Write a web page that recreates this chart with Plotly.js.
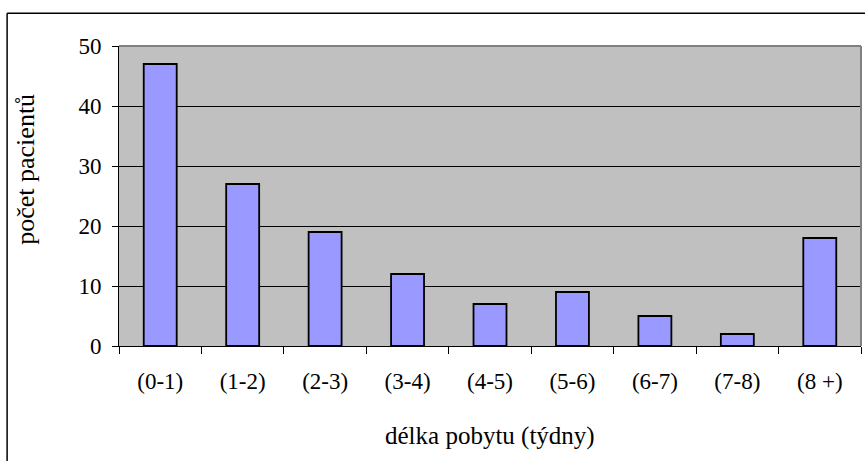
<!DOCTYPE html>
<html><head><meta charset="utf-8">
<script src="https://cdn.plot.ly/plotly-3.0.1.min.js"></script>
<style>body{margin:0;background:#fff}#c{width:865px;height:461px}</style>
</head><body><div id="c"></div>
<script>
const categories = ["(0-1)","(1-2)","(2-3)","(3-4)","(4-5)","(5-6)","(6-7)","(7-8)","(8 +)"];
const values = [47, 27, 19, 12, 7, 9, 5, 2, 18];
const yTicks = [0, 10, 20, 30, 40, 50];

const fam = "Liberation Serif, Times New Roman, serif";
const tickFont = {family: fam, size: 23, color: "#000"};
const xTitleFont = {family: fam, size: 25, color: "#000"};
const yTitleFont = {family: fam, size: 26, color: "#000"};
const data = [{
  type: "bar", x: categories, y: values,
  marker: {color: "#9999FF", line: {color: "#000", width: 1.8}},
  width: 0.4, hoverinfo: "none"
}];
const layout = {
  width: 865, height: 461,
  margin: {l: 119, r: 4, t: 46, b: 115},
  paper_bgcolor: "#fff", plot_bgcolor: "#C0C0C0",
  font: tickFont, showlegend: false, bargap: 0.6,
  xaxis: {
    type: "category", tickson: "boundaries", ticks: "outside", ticklen: 7, tickcolor: "#000", tickwidth: 1,
    showline: true, linecolor: "#000", linewidth: 1, showgrid: false, zeroline: false,
    tickfont: tickFont, ticklabelstandoff: 14, fixedrange: true
  },
  yaxis: {
    range: [0, 50], tickvals: yTicks, ticktext: yTicks.map(String),
    ticks: "outside", ticklen: 6, tickcolor: "#000",
    showline: true, linecolor: "#000", linewidth: 1,
    showgrid: true, gridcolor: "#000", gridwidth: 1, zeroline: false,
    tickfont: tickFont, ticklabelstandoff: 6, fixedrange: true
  },
  shapes: [
    {type: "line", xref: "paper", yref: "paper", x0: 0, x1: 1, y0: 1, y1: 1, line: {color: "#808080", width: 2}},
    {type: "line", xref: "paper", yref: "paper", x0: 1, x1: 1, y0: 0, y1: 1, line: {color: "#808080", width: 2}},
    {type: "line", xref: "paper", yref: "paper", x0: -0.1508, x1: 1.2, y0: 1.109, y1: 1.109, line: {color: "#000", width: 1.5}},
    {type: "line", xref: "paper", yref: "paper", x0: -0.1508, x1: -0.1508, y0: 1.109, y1: -0.5, line: {color: "#000", width: 1.5}}
  ],
  annotations: [
    {text: "délka pobytu (týdny)", xref: "paper", yref: "paper", x: 0.5, y: -0.30, xanchor: "center", yanchor: "middle", showarrow: false, font: xTitleFont},
    {text: "počet pacientů", xref: "paper", yref: "paper", x: -0.127, y: 0.59, xanchor: "center", yanchor: "middle", textangle: -90, showarrow: false, font: yTitleFont}
  ]
};
Plotly.newPlot("c", data, layout, {displayModeBar: false, staticPlot: true});
</script></body></html>
